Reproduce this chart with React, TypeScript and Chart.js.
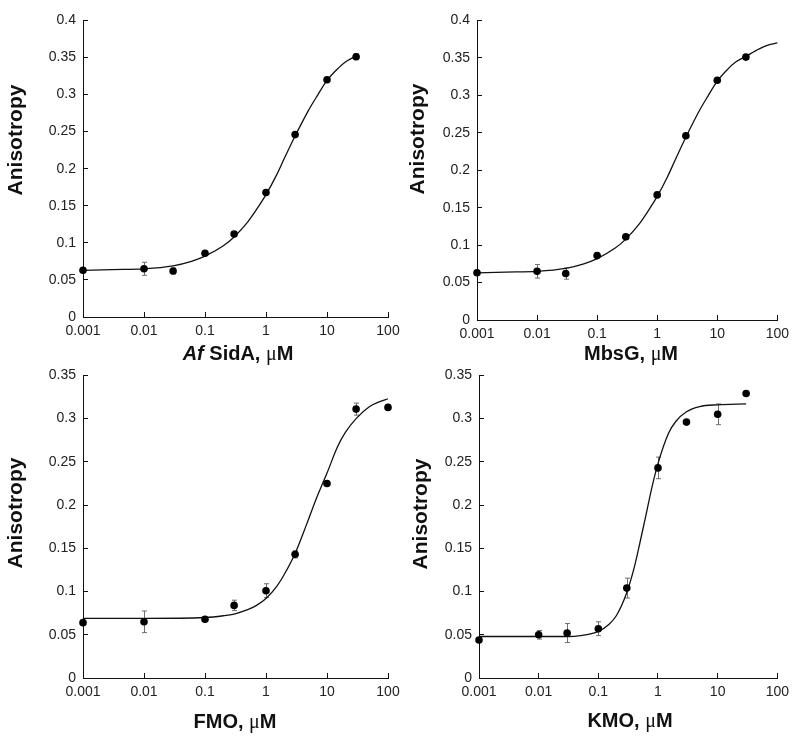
import React, { useEffect, useRef } from "react";
import { Chart, registerables } from "chart.js";

Chart.register(...registerables);

// ---------- shared axis ticks ----------
const xTickValues = [0.001, 0.01, 0.1, 1, 10, 100];
const xTickLabels = ["0.001", "0.01", "0.1", "1", "10", "100"];

// ---------- Panel 1: Af SidA ----------
const sidaConc = [0.001, 0.01, 0.03, 0.1, 0.3, 1, 3, 10, 30];
const sidaAniso = [0.063, 0.065, 0.062, 0.086, 0.112, 0.168, 0.246, 0.32, 0.351];
const sidaErr = [0, 0.0088, 0.004, 0.002, 0.003, 0.002, 0.002, 0.002, 0.004];
const sidaFitConc = [0.001, 0.003, 0.01, 0.03, 0.06, 0.1, 0.2, 0.3, 0.5, 0.7, 1, 1.5, 2, 3, 5, 7, 10, 15, 20, 30];
const sidaFitAniso = [0.063, 0.064, 0.065, 0.069, 0.075, 0.082, 0.096, 0.108, 0.128, 0.145, 0.165, 0.192, 0.214, 0.244, 0.279, 0.299, 0.319, 0.335, 0.344, 0.352];

// ---------- Panel 2: MbsG ----------
const mbsgConc = [0.001, 0.01, 0.03, 0.1, 0.3, 1, 3, 10, 30];
const mbsgAniso = [0.063, 0.065, 0.062, 0.086, 0.111, 0.167, 0.246, 0.32, 0.351];
const mbsgErr = [0, 0.009, 0.0075, 0.002, 0.003, 0.002, 0.002, 0.002, 0.003];
const mbsgFitConc = [0.001, 0.003, 0.01, 0.03, 0.06, 0.1, 0.2, 0.3, 0.5, 0.7, 1, 1.5, 2, 3, 5, 7, 10, 15, 20, 30, 50, 70, 100];
const mbsgFitAniso = [0.063, 0.064, 0.065, 0.069, 0.075, 0.082, 0.096, 0.108, 0.128, 0.145, 0.165, 0.192, 0.214, 0.244, 0.279, 0.299, 0.319, 0.335, 0.344, 0.352, 0.362, 0.367, 0.37];

// ---------- Panel 3: FMO ----------
const fmoConc = [0.001, 0.01, 0.1, 0.3, 1, 3, 10, 30, 100];
const fmoAniso = [0.064, 0.065, 0.068, 0.084, 0.101, 0.143, 0.225, 0.311, 0.313];
const fmoErr = [0, 0.0125, 0.002, 0.006, 0.008, 0.004, 0.002, 0.007, 0.002];
const fmoFitConc = [0.001, 0.01, 0.1, 0.2, 0.3, 0.5, 0.7, 1, 1.5, 2, 3, 4, 5, 7, 10, 15, 20, 30, 50, 70, 100];
const fmoFitAniso = [0.069, 0.069, 0.07, 0.072, 0.074, 0.079, 0.084, 0.092, 0.106, 0.12, 0.144, 0.166, 0.184, 0.211, 0.237, 0.268, 0.284, 0.3, 0.314, 0.319, 0.323];

// ---------- Panel 4: KMO ----------
const kmoConc = [0.001, 0.01, 0.03, 0.1, 0.3, 1, 3, 10, 30];
const kmoAniso = [0.044, 0.05, 0.052, 0.057, 0.104, 0.243, 0.296, 0.305, 0.329];
const kmoErr = [0, 0.005, 0.011, 0.008, 0.0115, 0.0125, 0.002, 0.012, 0];
const kmoFitConc = [0.001, 0.01, 0.03, 0.05, 0.1, 0.15, 0.2, 0.3, 0.4, 0.5, 0.6, 0.8, 1, 1.5, 2, 3, 5, 10, 30];
const kmoFitAniso = [0.048, 0.048, 0.048, 0.049, 0.054, 0.062, 0.072, 0.099, 0.128, 0.157, 0.182, 0.222, 0.248, 0.283, 0.297, 0.308, 0.314, 0.316, 0.317];

const yTitleText = "Anisotropy";

const SANS = '"Liberation Sans", Arial, Helvetica, sans-serif';
const BOLD = `bold 20px ${SANS}`;
const BOLD_IT = `italic bold 20px ${SANS}`;
const MU = `20px "Liberation Serif", "Times New Roman", serif`;

type Run = { text: string; font: string };

interface PanelCfg {
  conc: number[];
  aniso: number[];
  err: number[];
  fitX: number[];
  fitY: number[];
  yMax: number;
  xTitle: Run[];
  // layout (canvas-local pixels)
  left: number;
  top: number;
  width: number;
  height: number;
  areaLeft: number;
  areaRight: number;
  areaTop: number;
  areaBottom: number;
  yTitleX: number;
  yTitleY: number;
  xTitleX: number;
  xTitleY: number;
}

const panels: PanelCfg[] = [
  {
    conc: sidaConc, aniso: sidaAniso, err: sidaErr, fitX: sidaFitConc, fitY: sidaFitAniso, yMax: 0.4,
    xTitle: [
      { text: "Af", font: BOLD_IT },
      { text: " SidA, ", font: BOLD },
      { text: "\u03bc", font: MU },
      { text: "M", font: BOLD },
    ],
    left: 0, top: 0, width: 415, height: 370,
    areaLeft: 83, areaRight: 388, areaTop: 14, areaBottom: 317,
    yTitleX: 22, yTitleY: 140, xTitleX: 238, xTitleY: 360,
  },
  {
    conc: mbsgConc, aniso: mbsgAniso, err: mbsgErr, fitX: mbsgFitConc, fitY: mbsgFitAniso, yMax: 0.4,
    xTitle: [
      { text: "MbsG, ", font: BOLD },
      { text: "\u03bc", font: MU },
      { text: "M", font: BOLD },
    ],
    left: 400, top: 0, width: 400, height: 370,
    areaLeft: 77, areaRight: 382, areaTop: 16, areaBottom: 320,
    yTitleX: 24, yTitleY: 139, xTitleX: 231, xTitleY: 360,
  },
  {
    conc: fmoConc, aniso: fmoAniso, err: fmoErr, fitX: fmoFitConc, fitY: fmoFitAniso, yMax: 0.35,
    xTitle: [
      { text: "FMO, ", font: BOLD },
      { text: "\u03bc", font: MU },
      { text: "M", font: BOLD },
    ],
    left: 0, top: 355, width: 415, height: 385,
    areaLeft: 83, areaRight: 388, areaTop: 18, areaBottom: 323,
    yTitleX: 22, yTitleY: 158, xTitleX: 235, xTitleY: 373,
  },
  {
    conc: kmoConc, aniso: kmoAniso, err: kmoErr, fitX: kmoFitConc, fitY: kmoFitAniso, yMax: 0.35,
    xTitle: [
      { text: "KMO, ", font: BOLD },
      { text: "\u03bc", font: MU },
      { text: "M", font: BOLD },
    ],
    left: 400, top: 355, width: 400, height: 385,
    areaLeft: 79, areaRight: 383, areaTop: 18, areaBottom: 323,
    yTitleX: 27, yTitleY: 159, xTitleX: 230, xTitleY: 372,
  },
];

function fmtY(v: number): string {
  return String(Number(v.toFixed(2)));
}

function buildChart(canvas: HTMLCanvasElement, p: PanelCfg): Chart {
  const errPlugin = {
    id: "errbars",
    beforeDatasetsDraw(chart: any) {
      const ctx = chart.ctx as CanvasRenderingContext2D;
      const xs = chart.scales.x;
      const ys = chart.scales.y;
      ctx.save();
      ctx.strokeStyle = "#6e6e6e";
      ctx.lineWidth = 1;
      p.conc.forEach((c, i) => {
        const e = p.err[i];
        if (!e) return;
        const px = Math.round(xs.getPixelForValue(c)) + 0.5;
        const t = ys.getPixelForValue(p.aniso[i] + e);
        const b = ys.getPixelForValue(p.aniso[i] - e);
        ctx.beginPath();
        ctx.moveTo(px, t);
        ctx.lineTo(px, b);
        ctx.moveTo(px - 2.5, t);
        ctx.lineTo(px + 2.5, t);
        ctx.moveTo(px - 2.5, b);
        ctx.lineTo(px + 2.5, b);
        ctx.stroke();
      });
      ctx.restore();
    },
  };

  const titlePlugin = {
    id: "titles",
    afterDraw(chart: any) {
      const ctx = chart.ctx as CanvasRenderingContext2D;
      ctx.save();
      ctx.fillStyle = "#111";
      // y title
      ctx.translate(p.yTitleX, p.yTitleY);
      ctx.rotate(-Math.PI / 2);
      ctx.font = `bold 21px ${SANS}`;
      ctx.textAlign = "center";
      ctx.textBaseline = "alphabetic";
      ctx.fillText(yTitleText, 0, 0);
      ctx.restore();

      // x title (mixed runs)
      ctx.save();
      ctx.fillStyle = "#111";
      ctx.textAlign = "left";
      ctx.textBaseline = "alphabetic";
      let total = 0;
      const widths = p.xTitle.map((r) => {
        ctx.font = r.font;
        const w = ctx.measureText(r.text).width;
        total += w;
        return w;
      });
      let x = p.xTitleX - total / 2;
      p.xTitle.forEach((r, i) => {
        ctx.font = r.font;
        ctx.fillText(r.text, x, p.xTitleY);
        x += widths[i];
      });
      ctx.restore();
    },
  };

  const axisColor = "#111";
  const tickFont = { family: SANS, size: 14 };

  return new Chart(canvas, {
    type: "scatter",
    data: {
      datasets: [
        {
          label: "fit",
          data: p.fitX.map((x, i) => ({ x, y: p.fitY[i] })),
          showLine: true,
          borderColor: "#111",
          borderWidth: 1.3,
          pointRadius: 0,
          cubicInterpolationMode: "monotone",
          clip: false,
          order: 2,
        } as any,
        {
          label: "data",
          data: p.conc.map((x, i) => ({ x, y: p.aniso[i] })),
          backgroundColor: "#000",
          borderColor: "#000",
          borderWidth: 0,
          pointRadius: 3.8,
          clip: false,
          order: 1,
        } as any,
      ],
    },
    options: {
      responsive: false,
      animation: false,
      devicePixelRatio: 1,
      layout: {
        padding: {
          left: 0,
          top: p.areaTop,
          right: p.width - p.areaRight,
          bottom: 0,
        },
      },
      plugins: {
        legend: { display: false },
        tooltip: { enabled: false },
        title: { display: false },
      },
      events: [],
      scales: {
        x: {
          type: "logarithmic",
          min: 0.001,
          max: 100,
          afterBuildTicks: (axis: any) => {
            axis.ticks = xTickValues.map((v) => ({ value: v }));
          },
          afterFit: (axis: any) => {
            axis.height = p.height - p.areaBottom;
          },
          ticks: {
            autoSkip: false,
            maxRotation: 0,
            minRotation: 0,
            padding: 11,
            color: "#222",
            font: tickFont,
            callback: (_v: any, i: number) => xTickLabels[i],
          },
          grid: {
            display: true,
            drawOnChartArea: false,
            drawTicks: true,
            tickLength: -5,
            color: axisColor,
            lineWidth: 1,
          },
          border: { display: true, color: axisColor, width: 1 },
        },
        y: {
          type: "linear",
          min: 0,
          max: p.yMax,
          afterFit: (axis: any) => {
            axis.width = p.areaLeft;
          },
          ticks: {
            stepSize: 0.05,
            padding: 12,
            color: "#222",
            font: tickFont,
            callback: (v: any) => fmtY(Number(v)),
          },
          grid: {
            display: true,
            drawOnChartArea: false,
            drawTicks: true,
            tickLength: -5,
            color: axisColor,
            lineWidth: 1,
          },
          border: { display: true, color: axisColor, width: 1 },
        },
      },
    } as any,
    plugins: [errPlugin, titlePlugin],
  });
}

function Panel({ cfg }: { cfg: PanelCfg }) {
  const ref = useRef<HTMLCanvasElement | null>(null);
  useEffect(() => {
    if (!ref.current) return;
    const chart = buildChart(ref.current, cfg);
    return () => chart.destroy();
  }, [cfg]);
  return (
    <canvas
      ref={ref}
      width={cfg.width}
      height={cfg.height}
      style={{
        position: "absolute",
        left: cfg.left,
        top: cfg.top,
        width: cfg.width,
        height: cfg.height,
      }}
    />
  );
}

export default function App() {
  return (
    <div
      style={{
        position: "absolute",
        left: 0,
        top: 0,
        width: 800,
        height: 740,
        background: "#fff",
        overflow: "hidden",
      }}
    >
      {panels.map((p, i) => (
        <Panel key={i} cfg={p} />
      ))}
    </div>
  );
}
